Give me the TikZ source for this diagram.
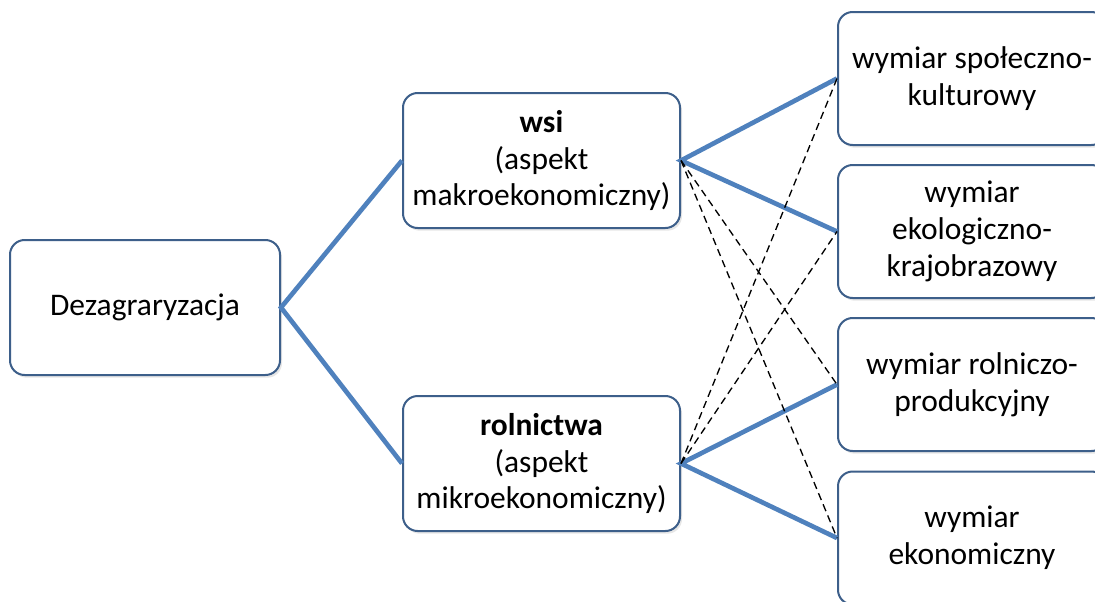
\documentclass[tikz,border=0pt]{standalone}
\usepackage{fontspec}
\setmainfont{Carlito}
\usetikzlibrary{shadows}
\definecolor{ramka}{HTML}{3D5F8A}
\definecolor{linia}{HTML}{4F81BD}
\begin{document}
\begin{tikzpicture}[x=0.75pt,y=-0.75pt,
	pole/.style={draw=ramka, line width=1.5pt, fill=white, rounded corners=11pt,
		align=center, font=\fontsize{23.6}{27.5}\selectfont, inner sep=2pt,
		drop shadow={opacity=0.2, shadow xshift=1.5pt, shadow yshift=-2pt}},
	lewe/.style={pole, minimum width=202.5pt, minimum height=101.25pt},
	srodek/.style={pole, minimum width=207.75pt, minimum height=101.25pt},
	prawe/.style={pole, minimum width=201pt, minimum height=99.75pt},
	gruba/.style={draw=linia, line width=3.5pt},
	kreska/.style={draw=black, line width=1pt, dash pattern=on 5.5pt off 3.5pt}]
		\useasboundingbox (0,0) rectangle (1095,601);
		\clip (0,0) rectangle (1095,601);

		\node[lewe] (dez) at (145,307.5) {Dezagraryzacja};
		\node[srodek] (wsi) at (541.5,160.5) {\textbf{wsi}\\(aspekt\\makroekonomiczny)};
		\node[srodek] (rol) at (541.5,463.5) {\textbf{rolnictwa}\\(aspekt\\mikroekonomiczny)};

		\node[prawe] (spol) at (972,78.5) {wymiar społeczno-\\kulturowy};
		\node[prawe] (eko) at (972,231.5) {wymiar\\ekologiczno-\\krajobrazowy};
		\node[prawe] (prod) at (972,384.5) {wymiar rolniczo-\\produkcyjny};
		\node[prawe] (ekon) at (972,538) {wymiar\\ekonomiczny};

		\draw[gruba] (wsi.west) -- (dez.east) -- (rol.west);
		\draw[gruba] (spol.west) -- (wsi.east) -- (eko.west);
		\draw[gruba] (prod.west) -- (rol.east) -- (ekon.west);

		\draw[kreska] (wsi.east) -- (prod.west);
		\draw[kreska] (wsi.east) -- (ekon.west);
		\draw[kreska] (rol.east) -- (spol.west);
		\draw[kreska] (rol.east) -- (eko.west);
	\end{tikzpicture}
\end{document}
